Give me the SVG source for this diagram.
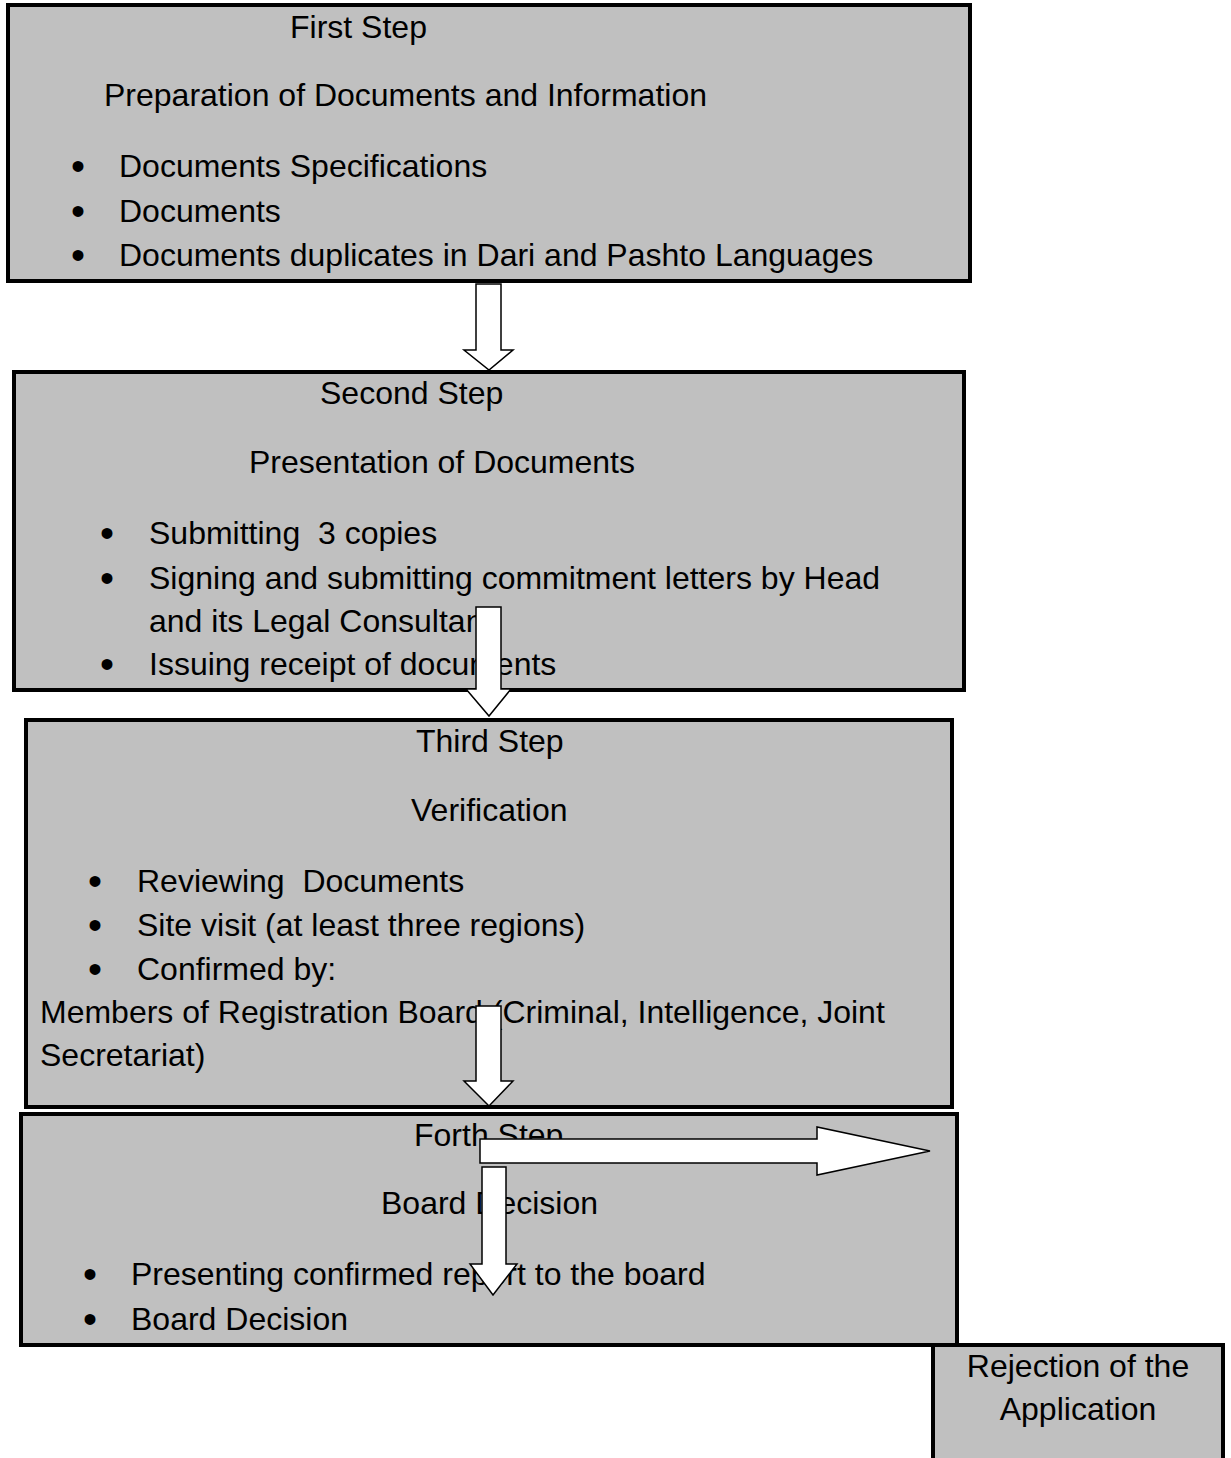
<svg xmlns="http://www.w3.org/2000/svg" width="1231" height="1458" viewBox="0 0 1231 1458">
<style>
.box{fill:#c0c0c0;stroke:#000;stroke-width:4}
.t{font-family:"Liberation Sans",Arial,sans-serif;font-size:32px;fill:#000}
.b{font-family:"Liberation Sans",Arial,sans-serif;font-size:40px;fill:#000;text-anchor:middle}
.c{text-anchor:middle}
.arr{fill:#fff;stroke:#000;stroke-width:1.5;stroke-linejoin:miter}
</style>
<rect width="1231" height="1458" fill="#fff"/>
<g id="step1">
<rect class="box" x="8" y="5" width="962" height="276"/>
<text class="t" x="290" y="38">First Step</text>
<text class="t" x="104" y="106">Preparation of Documents and Information</text>
<text class="b" x="78" y="180">•</text><text class="t" x="119" y="177">Documents Specifications</text>
<text class="b" x="78" y="225">•</text><text class="t" x="119" y="222">Documents</text>
<text class="b" x="78" y="269">•</text><text class="t" x="119" y="266">Documents duplicates in Dari and Pashto Languages</text>
</g>
<g id="step2">
<rect class="box" x="14" y="372" width="950" height="318"/>
<text class="t" x="320" y="404">Second Step</text>
<text class="t" x="249" y="473">Presentation of Documents</text>
<text class="b" x="107" y="547">•</text><text class="t" x="149" y="544" xml:space="preserve">Submitting  3 copies</text>
<text class="b" x="107" y="592">•</text><text class="t" x="149" y="589">Signing and submitting commitment letters by Head</text>
<text class="t" x="149" y="632">and its Legal Consultant</text>
<text class="b" x="107" y="678">•</text><text class="t" x="149" y="675">Issuing receipt of documents</text>
</g>
<g id="step3">
<rect class="box" x="26" y="720" width="926" height="387"/>
<text class="t" x="416" y="752">Third Step</text>
<text class="t" x="411" y="821">Verification</text>
<text class="b" x="95" y="895">•</text><text class="t" x="137" y="892" xml:space="preserve">Reviewing  Documents</text>
<text class="b" x="95" y="939">•</text><text class="t" x="137" y="936">Site visit (at least three regions)</text>
<text class="b" x="95" y="983">•</text><text class="t" x="137" y="980">Confirmed by:</text>
<text class="t" x="40" y="1023">Members of Registration Board (Criminal, Intelligence, Joint</text>
<text class="t" x="40" y="1066">Secretariat)</text>
</g>
<g id="step4">
<rect class="box" x="21" y="1114" width="936" height="231"/>
<text class="t" x="414" y="1146">Forth Step</text>
<text class="t" x="381" y="1214">Board Decision</text>
<text class="b" x="90" y="1288">•</text><text class="t" x="131" y="1285">Presenting confirmed report to the board</text>
<text class="b" x="90" y="1333">•</text><text class="t" x="131" y="1330">Board Decision</text>
</g>
<g id="rejection">
<rect class="box" x="933" y="1345" width="290" height="130"/>
<text class="t c" x="1078" y="1377">Rejection of the</text>
<text class="t c" x="1078" y="1420">Application</text>
</g>
<g id="connectors">
<path class="arr" d="M476,284 H501 V350 H513 L489,370 L464,350 H476 Z"/>
<path class="arr" d="M476,607 H501 V689 H511 L489,716 L466,689 H476 Z"/>
<path class="arr" d="M476,1006 H501 V1081 H513 L489,1106 L464,1081 H476 Z"/>
<path class="arr" d="M480,1139 H817 V1127 L930,1151 L817,1175 V1163 H480 Z"/>
<path class="arr" d="M482,1167 H506 V1264 H517 L493,1295 L470,1264 H482 Z"/>
</g>
</svg>
